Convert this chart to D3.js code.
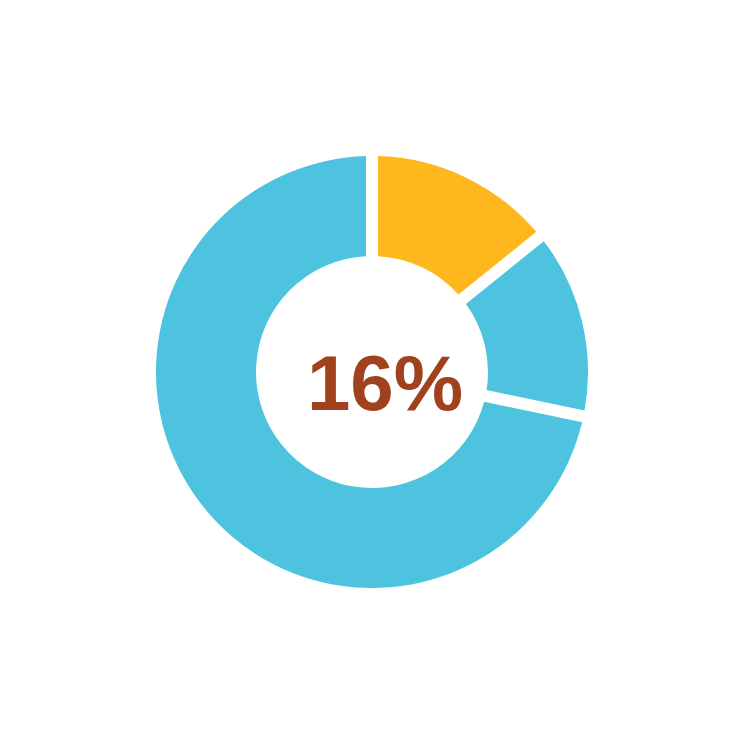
<!DOCTYPE html>
<html>
<head>
<meta charset="utf-8">
<script src="https://cdn.jsdelivr.net/npm/d3@7"></script>
<style>
  body { margin: 0; background: #fff; }
</style>
</head>
<body>
<div id="chart"></div>
<script>
var w = 744;
var h = 744;

// slices, clockwise from 12 o'clock
var categories = ["A", "B", "C"];
var values = [14.2, 14.1, 71.7];
var colors = ["#FEB81E", "#4EC3E0", "#4EC3E0"];
var centerLabel = "16%";

var cx = 372, cy = 372;
var outerR = 216, innerR = 116;

var svg = d3.select("#chart")
  .append("svg")
  .attr("width", w)
  .attr("height", h);

var pie = d3.pie()
  .sort(null)
  .value(function(d) { return d; });

var arc = d3.arc()
  .innerRadius(innerR)
  .outerRadius(outerR)
  .padAngle(0.12)
  .padRadius(100);

var g = svg.append("g")
  .attr("transform", "translate(" + cx + "," + cy + ")");

g.selectAll("path")
  .data(pie(values))
  .enter()
  .append("path")
  .attr("d", arc)
  .attr("fill", function(d, i) { return colors[i]; });

// big label in the hole
g.append("text")
  .attr("x", 13)
  .attr("y", 38)
  .attr("text-anchor", "middle")
  .attr("font-family", "Liberation Sans, Arial, sans-serif")
  .attr("font-weight", "bold")
  .attr("font-size", "78px")
  .attr("fill", "#A0421E")
  .text(centerLabel);
</script>
</body>
</html>
